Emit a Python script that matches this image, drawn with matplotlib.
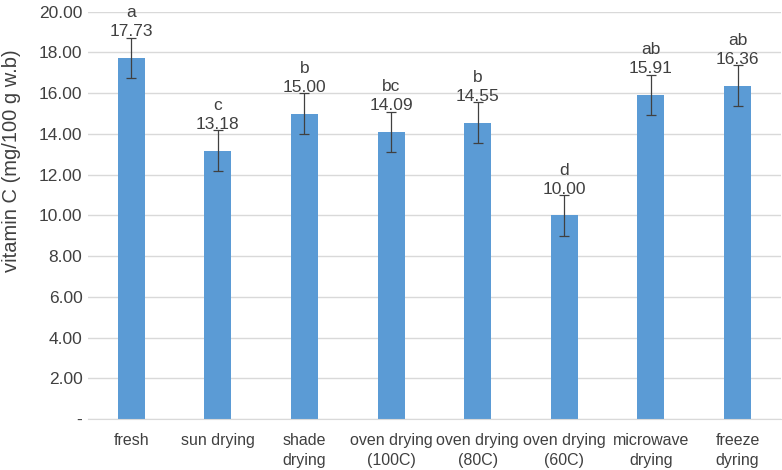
import matplotlib
matplotlib.use("Agg")
import matplotlib.pyplot as plt
import numpy as np

categories = ["fresh", "sun drying", "shade\ndrying", "oven drying\n(100C)",
              "oven drying\n(80C)", "oven drying\n(60C)", "microwave\ndrying", "freeze\ndyring"]
values = [17.73, 13.18, 15.00, 14.09, 14.55, 10.00, 15.91, 16.36]
errors = [1.0, 1.0, 1.0, 1.0, 1.0, 1.0, 1.0, 1.0]
letters = ["a", "c", "b", "bc", "b", "d", "ab", "ab"]
yticks = [0, 2, 4, 6, 8, 10, 12, 14, 16, 18, 20]
ytick_labels = ["-"] + [f"{v:.2f}" for v in yticks[1:]]

plt.rcParams['font.family'] = ['Liberation Sans', 'DejaVu Sans']
txt = "#404040"

fig = plt.figure(figsize=(7.82, 4.70), dpi=100)
ax = fig.add_axes([0.1125, 0.1085, 0.886, 0.8666])
x = np.arange(len(categories))
ax.bar(x, values, width=0.31, color="#5b9bd5", zorder=2)
ax.errorbar(x, values, yerr=errors, fmt="none", ecolor="#404040", elinewidth=0.9,
            capsize=3.5, capthick=0.9, zorder=3)
for xi, v, e, l in zip(x, values, errors, letters):
    ax.text(xi, v + e + 0.06, f"{l}\n{v:.2f}", ha="center", va="baseline",
            fontsize=12.5, color=txt, linespacing=1.35, zorder=4, clip_on=False)

ax.set_xlim(-0.5, len(categories) - 0.5)
ax.set_ylim(0, 20)
ax.set_yticks(yticks)
ax.set_yticklabels(ytick_labels)
ax.set_xticks(x)
ax.set_xticklabels(categories, linespacing=1.45)
ax.tick_params(axis="both", length=0, labelcolor=txt)
ax.tick_params(axis="y", pad=4, labelsize=12.5)
ax.tick_params(axis="x", pad=10, labelsize=11.5)
ax.grid(axis="y", color="#d9d9d9", linewidth=1, zorder=0)
for s in ["top", "right", "left"]:
    ax.spines[s].set_visible(False)
ax.spines["bottom"].set_color("#d9d9d9")
ax.set_ylabel("vitamin C (mg/100 g w.b)", fontsize=14.5, color=txt)
ax.yaxis.set_label_coords(-0.097, 0.635)
fig.savefig("out.png", dpi=100)
